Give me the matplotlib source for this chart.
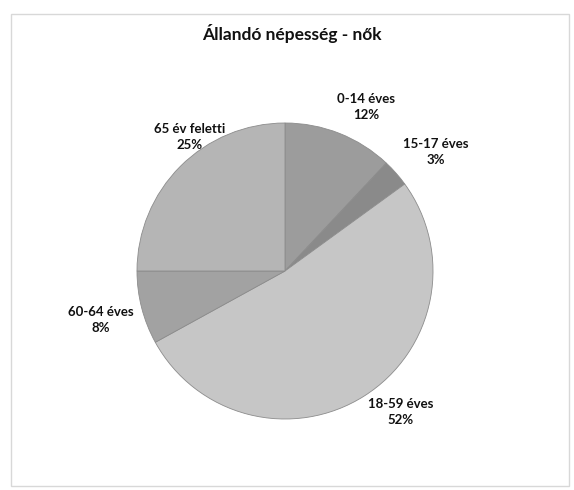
import matplotlib.pyplot as plt
from matplotlib.patches import Rectangle

plt.rcParams['font.family'] = ['Lato', 'DejaVu Sans']

labels = ["0-14 éves", "15-17 éves", "18-59 éves", "60-64 éves", "65 év feletti"]
shares = [12, 3, 52, 8, 25]
colors = ["#9c9c9c", "#8a8a8a", "#c6c6c6", "#a2a2a2", "#b5b5b5"]
title = "Állandó népesség - nők"

# label anchor points in pixel coords (x, y from top)
label_pos = [(366, 107), (436, 152), (401, 412), (101, 320), (190, 137)]

W, H = 574, 490
fig = plt.figure(figsize=(W / 100, H / 100), dpi=100)
ax = fig.add_axes([0, 0, 1, 1])

ax.pie(shares, colors=colors, startangle=90, counterclock=False,
       center=(285, H - 271), radius=148,
       wedgeprops=dict(edgecolor="#8c8c8c", linewidth=0.6))

ax.set_xlim(0, W)
ax.set_ylim(0, H)
ax.set_aspect("equal")
ax.axis("off")

# faint frame of the chart area
ax.add_patch(Rectangle((11, H - 486), 558, 472, fill=False, ec="#d8d8d8", lw=1))

for lab, val, (x, y) in zip(labels, shares, label_pos):
    ax.text(x, H - y, f"{lab}\n{val}%", ha="center", va="center",
            fontsize=9.5, fontweight="bold", linespacing=1.4, color="#111111")

ax.text(292, H - 34, title, ha="center", va="center",
        fontsize=12.5, fontweight="bold", color="#111111")

fig.savefig("out.png", dpi=100)
